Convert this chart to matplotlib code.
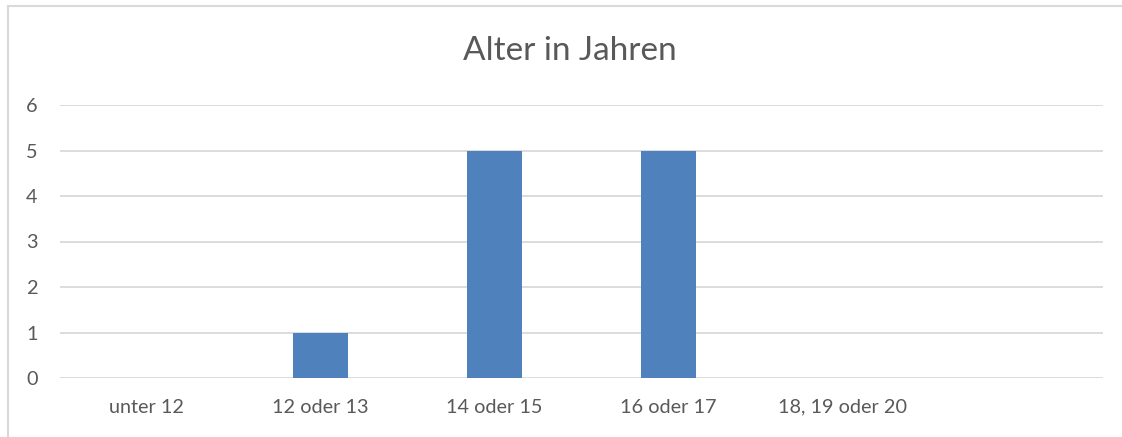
import matplotlib
matplotlib.use("Agg")
import matplotlib.pyplot as plt
from matplotlib.lines import Line2D

categories = ["unter 12", "12 oder 13", "14 oder 15", "16 oder 17", "18, 19 oder 20", ""]
values = [0, 1, 5, 5, 0, 0]
yticks = [0, 1, 2, 3, 4, 5, 6]
title = "Alter in Jahren"

plt.rcParams['font.family'] = ['Lato', 'DejaVu Sans']
W, H = 1122, 437
fig = plt.figure(figsize=(W/100, H/100), dpi=100)
ax = fig.add_axes([60/W, (H-378)/H, (1103-60)/W, (378-105)/H])

x = list(range(len(categories)))
ax.bar(x, values, width=0.316, color="#4F81BD", zorder=3)
ax.set_xlim(-0.5, len(categories)-0.5)
ax.set_ylim(0, 6)
ax.set_yticks(yticks)
ax.set_xticks(x)
ax.set_xticklabels(categories)
for s in ax.spines.values():
    s.set_visible(False)
ax.yaxis.grid(True, color="#D9D9D9", linewidth=1.3, zorder=0)
ax.tick_params(axis='both', length=0, colors="#595959", labelsize=14.3)
ax.tick_params(axis='x', pad=15)
ax.tick_params(axis='y', pad=16)
fig.text(570/W, (H-51)/H, title, ha='center', va='center', fontsize=24, color="#595959")

# chart border (left and top visible)
fig.add_artist(Line2D([8/W, 8/W], [0, (H-6)/H], transform=fig.transFigure, color="#D9D9D9", lw=1.5))
fig.add_artist(Line2D([8/W, 1], [(H-6)/H, (H-6)/H], transform=fig.transFigure, color="#D9D9D9", lw=1.5))

fig.savefig("out.png", dpi=100)
